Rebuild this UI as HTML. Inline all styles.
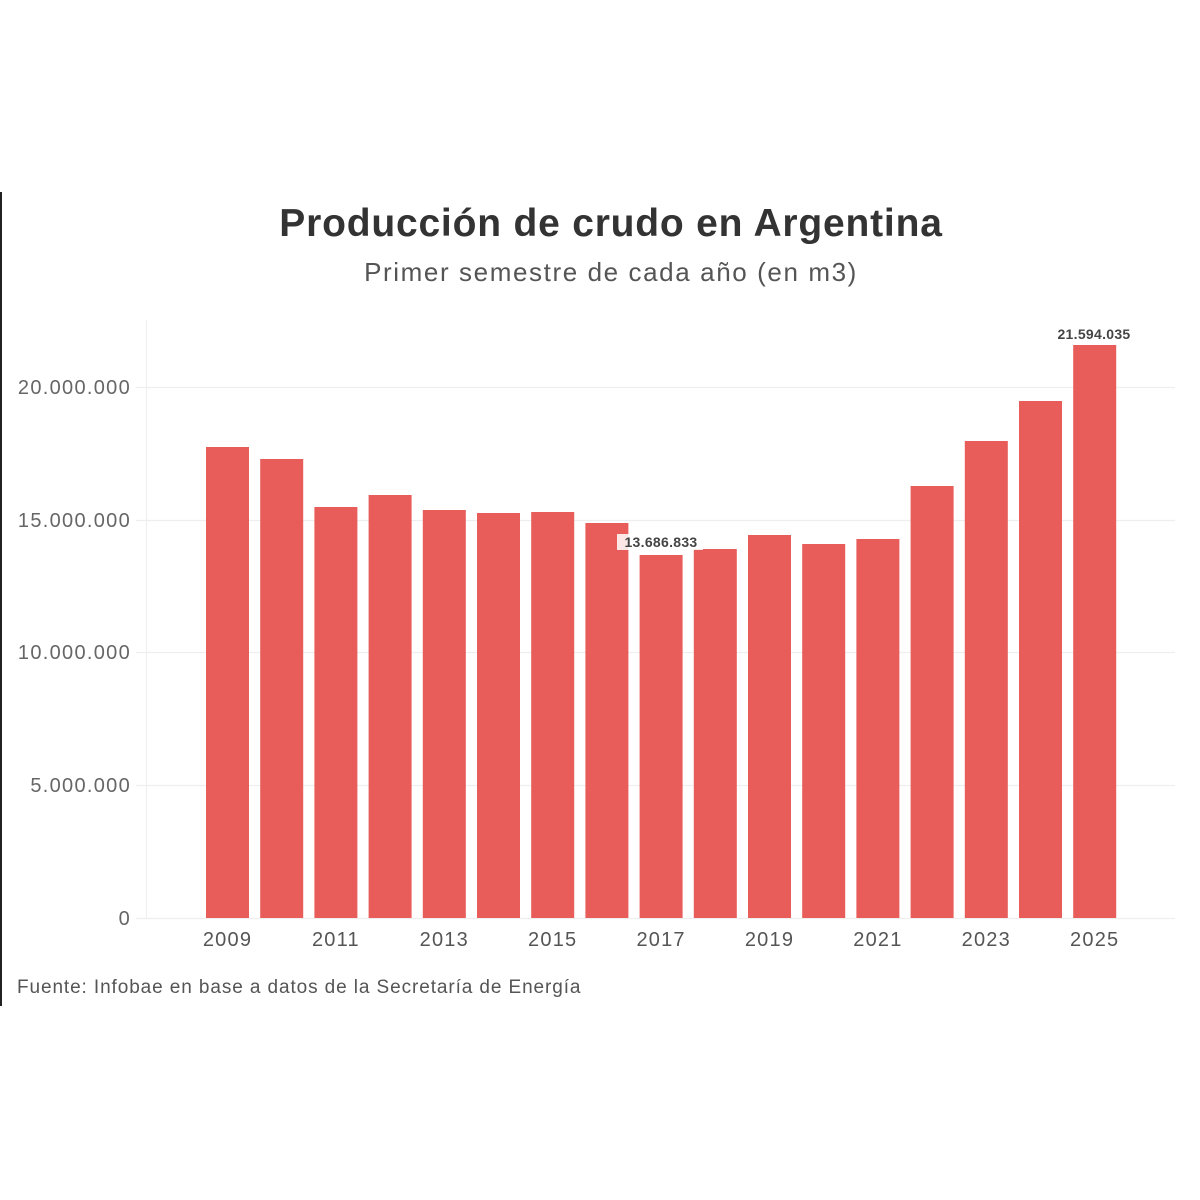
<!DOCTYPE html>
<html><head><meta charset="utf-8"><style>
html,body{margin:0;padding:0;background:#fff;}
svg{display:block;}
</style></head><body>
<svg width="1200" height="1200" viewBox="0 0 1200 1200" xmlns="http://www.w3.org/2000/svg" font-family="Liberation Sans, sans-serif">
<rect width="1200" height="1200" fill="#fff"/>
<rect x="0" y="192" width="2" height="814" fill="#222"/>
<text x="611" y="236" text-anchor="middle" font-size="39" font-weight="bold" fill="#333" letter-spacing="0.8">Producción de crudo en Argentina</text>
<text x="611" y="281" text-anchor="middle" font-size="26" fill="#555" letter-spacing="1.6">Primer semestre de cada año (en m3)</text>
<line x1="146.5" y1="320" x2="146.5" y2="918" stroke="#eee" stroke-width="1"/>
<g stroke="#eee" stroke-width="1.2">
<line x1="136" y1="387.5" x2="1175" y2="387.5"/>
<line x1="136" y1="520.5" x2="1175" y2="520.5"/>
<line x1="136" y1="652.5" x2="1175" y2="652.5"/>
<line x1="136" y1="785.5" x2="1175" y2="785.5"/>
<line x1="136" y1="918.5" x2="1175" y2="918.5"/>
</g>
<g font-size="20" fill="#666" text-anchor="end" letter-spacing="1.3">
<text x="131" y="394">20.000.000</text>
<text x="131" y="527">15.000.000</text>
<text x="131" y="659">10.000.000</text>
<text x="131" y="792">5.000.000</text>
<text x="131" y="925">0</text>
</g>
<g fill="#e85c5a">
<rect x="206" y="447" width="43" height="471"/>
<rect x="260.2" y="459" width="43" height="459"/>
<rect x="314.4" y="507" width="43" height="411"/>
<rect x="368.6" y="495" width="43" height="423"/>
<rect x="422.8" y="510" width="43" height="408"/>
<rect x="477" y="513" width="43" height="405"/>
<rect x="531.2" y="512" width="43" height="406"/>
<rect x="585.4" y="523" width="43" height="395"/>
<rect x="639.6" y="555" width="43" height="363"/>
<rect x="693.8" y="549" width="43" height="369"/>
<rect x="748" y="535" width="43" height="383"/>
<rect x="802.2" y="544" width="43" height="374"/>
<rect x="856.4" y="539" width="43" height="379"/>
<rect x="910.6" y="486" width="43" height="432"/>
<rect x="964.8" y="441" width="43" height="477"/>
<rect x="1019" y="401" width="43" height="517"/>
<rect x="1073.2" y="345" width="43" height="573"/>
</g>
<rect x="617" y="534" width="86" height="16" fill="#fff" opacity="0.85"/>
<text x="661" y="547" text-anchor="middle" font-size="14" font-weight="bold" fill="#444" letter-spacing="0.3">13.686.833</text>
<text x="1094" y="339" text-anchor="middle" font-size="14" font-weight="bold" fill="#444" letter-spacing="0.3">21.594.035</text>
<g font-size="20" fill="#555" text-anchor="middle" letter-spacing="1.2">
<text x="227.5" y="946">2009</text>
<text x="335.9" y="946">2011</text>
<text x="444.3" y="946">2013</text>
<text x="552.7" y="946">2015</text>
<text x="661.1" y="946">2017</text>
<text x="769.5" y="946">2019</text>
<text x="877.9" y="946">2021</text>
<text x="986.3" y="946">2023</text>
<text x="1094.7" y="946">2025</text>
</g>
<text x="17" y="993" font-size="19" fill="#555" letter-spacing="0.9">Fuente: Infobae en base a datos de la Secretaría de Energía</text>
</svg>
</body></html>
